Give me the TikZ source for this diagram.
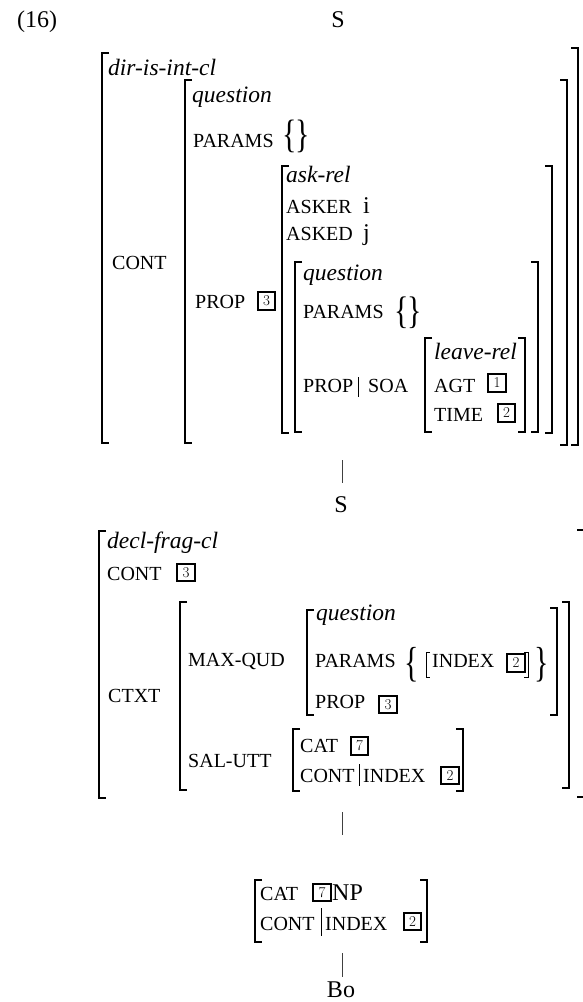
\documentclass[tikz,border=0pt]{standalone}
\usepackage{fontspec}
\setmainfont{Liberation Serif}
\newfontfamily\cmfont{Latin Modern Roman}
\tikzset{
  brk/.style={line width=2.5pt},
  thinbar/.style={line width=0.9pt},
  treeline/.style={line width=0.9pt, black!75},
  ft/.style={anchor=base west, inner sep=0pt, font=\fontsize{20}{20}\selectfont},
  ty/.style={anchor=base west, inner sep=0pt, font=\fontsize{23.5}{24}\selectfont\itshape},
  val/.style={anchor=base west, inner sep=0pt, font=\fontsize{24}{24}\selectfont},
  cat/.style={anchor=base, inner sep=0pt, font=\fontsize{24}{24}\selectfont},
  tagbox/.style={draw, line width=1.8pt, minimum width=17.5pt, minimum height=17.5pt, inner sep=0pt, font=\cmfont\fontsize{15}{15}\selectfont},
  brace/.style={inner sep=0pt, anchor=center, font=\fontsize{30}{30}\selectfont},
}
\newcommand\LB[3]{\draw[brk] (#1+7,#2) -- (#1,#2) -- (#1,#3) -- (#1+7,#3);}
\newcommand\RB[3]{\draw[brk] (#1-7,#2) -- (#1,#2) -- (#1,#3) -- (#1-7,#3);}
\newcommand\lbrc[1]{\scalebox{1}[#1]{\{}}
\newcommand\rbrc[1]{\scalebox{1}[#1]{\}}}
\begin{document}
\begin{tikzpicture}[x=1pt,y=-1pt]
\useasboundingbox (0,0) rectangle (582,1002);
% ---------- top ----------
\node[val] (ex) at (17,27) {(16)};
\node[cat] (S1) at (338,27) {S};
% brackets
\LB{102}{53}{443} \RB{578}{48}{445}
\LB{185}{80}{443} \RB{567}{80}{445}
\LB{282}{166}{433} \RB{552}{166}{433}
\LB{295}{262}{432} \RB{538}{262}{432}
\LB{425}{338}{432} \RB{525}{338}{432}
\node[ty] (t1) at (108,75) {dir-is-int-cl};
\node[ft] (f1) at (112,269) {CONT};
\node[ty] (t2) at (192,102) {question};
\node[ft] (f2) at (193,147) {PARAMS};
\node[brace] (b1) at (290,136) {\lbrc{1.32}};
\node[brace] (b2) at (303,136) {\rbrc{1.32}};
\node[ft] (f3) at (195,308) {PROP};
\node[tagbox] (n3a) at (266.5,301) {3};
\node[ty] (t3) at (286,182) {ask-rel};
\node[ft] (f4) at (286,213) {ASKER};
\node[val] (v1) at (363,213) {i};
\node[ft] (f5) at (286,240) {ASKED};
\node[val] (v2) at (363,240) {j};
\node[ty] (t4) at (303,280) {question};
\node[ft] (f6) at (303,318) {PARAMS};
\node[brace] (b3) at (402,312.5) {\lbrc{1.28}};
\node[brace] (b4) at (415,312.5) {\rbrc{1.28}};
\node[ft] (f7) at (303,392) {PROP};
\coordinate (bar1a) at (358,377); \coordinate (bar1b) at (358,397);
\draw[thinbar] (bar1a) -- (bar1b);
\node[ft] (f8) at (368,392) {SOA};
\node[ty] (t5) at (434,359) {leave-rel};
\node[ft] (f9) at (434,392) {AGT};
\node[tagbox] (n1) at (497,383) {1};
\node[ft] (f10) at (434,421) {TIME};
\node[tagbox] (n2a) at (506.5,413) {2};
% tree line
\coordinate (l1a) at (342,460); \coordinate (l1b) at (342,483);
\draw[treeline] (l1a) -- (l1b);
% ---------- middle ----------
\node[cat] (S2) at (341,512) {S};
\LB{99}{531}{798} \RB{584}{530}{797}
\LB{180}{602}{790} \RB{569}{602}{788}
\LB{307}{610}{715} \RB{557}{608}{715}
\LB{293}{729}{791} \RB{463}{729}{791}
\node[ty] (t6) at (107,548) {decl-frag-cl};
\node[ft] (f11) at (107,580) {CONT};
\node[tagbox] (n3b) at (186,572.5) {3};
\node[ft] (f12) at (108,702) {CTXT};
\node[ft] (f13) at (188,666) {MAX-QUD};
\node[ft] (f14) at (188,767) {SAL-UTT};
\node[ty] (t7) at (316,620) {question};
\node[ft] (f15) at (315,667) {PARAMS};
\node[brace] (b5) at (412,664.5) {\lbrc{1.4}};
\draw[thinbar] (430,652) -- (426,652) -- (426,677) -- (430,677);
\node[ft] (f16) at (432,667) {INDEX};
\node[tagbox] (n2b) at (516,663) {2};
\draw[thinbar] (524,652) -- (528,652) -- (528,677) -- (524,677);
\node[brace] (b6) at (542,664.5) {\rbrc{1.4}};
\node[ft] (f17) at (315,708) {PROP};
\node[tagbox] (n3c) at (388,704.5) {3};
\node[ft] (f18) at (300,752) {CAT};
\node[tagbox] (n7a) at (359.5,746) {7};
\node[ft] (f19) at (300,782) {CONT};
\coordinate (bar2a) at (359,764); \coordinate (bar2b) at (359,786);
\draw[thinbar] (bar2a) -- (bar2b);
\node[ft] (f20) at (363,782) {INDEX};
\node[tagbox] (n2c) at (450,775.5) {2};
% tree line
\coordinate (l2a) at (342,812); \coordinate (l2b) at (342,835);
\draw[treeline] (l2a) -- (l2b);
% ---------- bottom ----------
\LB{255}{880}{942} \RB{427}{880}{942}
\node[ft] (f21) at (260,900) {CAT};
\node[tagbox] (n7b) at (322,892.5) {7};
\node[val] (v3) at (332,900) {NP};
\node[ft] (f22) at (260,930) {CONT};
\coordinate (bar3a) at (321,908); \coordinate (bar3b) at (321,936);
\draw[thinbar] (bar3a) -- (bar3b);
\node[ft] (f23) at (325,930) {INDEX};
\node[tagbox] (n2d) at (412.5,921.5) {2};
\coordinate (l3a) at (342,953); \coordinate (l3b) at (342,977);
\draw[treeline] (l3a) -- (l3b);
\node[cat] (Bo) at (341,997) {Bo};
\end{tikzpicture}
\end{document}
